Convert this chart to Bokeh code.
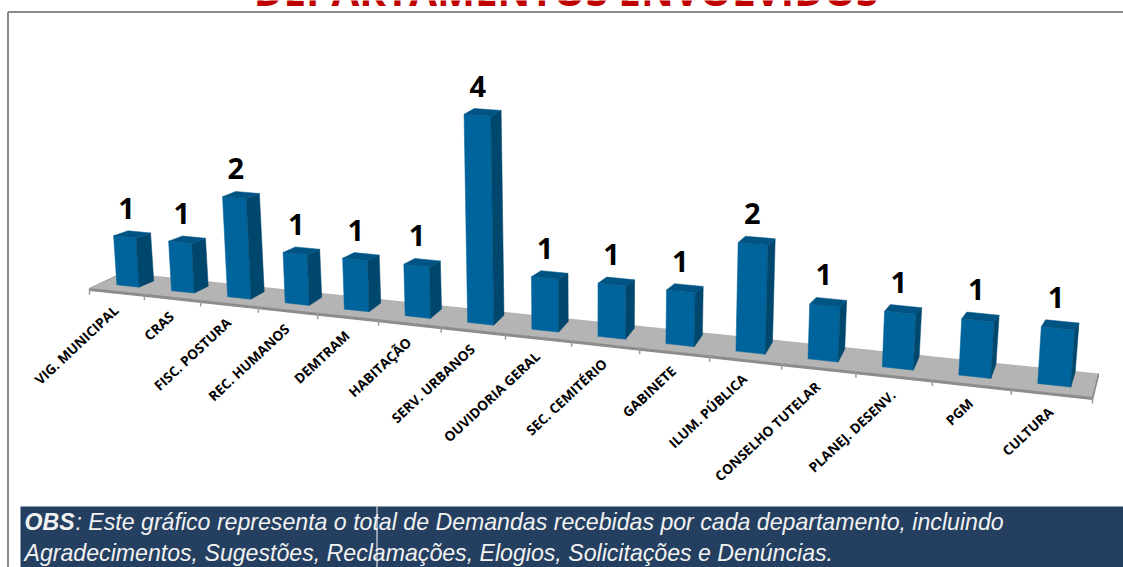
from bokeh.plotting import figure
from bokeh.models import Range1d
from bokeh.core.properties import value
from bokeh.embed import file_html
from bokeh.resources import INLINE

categories = ["VIG. MUNICIPAL", "CRAS", "FISC. POSTURA", "REC. HUMANOS", "DEMTRAM", "HABITAÇÃO",
              "SERV. URBANOS", "OUVIDORIA GERAL", "SEC. CEMITÉRIO", "GABINETE", "ILUM. PÚBLICA",
              "CONSELHO TUTELAR", "PLANEJ. DESENV.", "PGM", "CULTURA"]
values = [1, 1, 2, 1, 1, 1, 4, 1, 1, 1, 2, 1, 1, 1, 1]
title_text = "DEPARTAMENTOS ENVOLVIDOS"
note_bold = "OBS"
note_line1 = ": Este gráfico representa o total de Demandas recebidas por cada departamento, incluindo"
note_line2 = "Agradecimentos, Sugestões, Reclamações, Elogios, Solicitações e Denúncias."

W, H = 1123, 567
n = len(categories)


def lerp(a, b, f):
    return a + (b - a) * f


def X(t):
    return (53.03 * t + 89) / (1 - 0.01267 * t)


def floor_pt(t, d):
    """Perspective position of slot t / depth d on the chart floor."""
    x = X(t)
    f = t / n
    return x + d * lerp(34, 6, f), 288 + 0.1088 * (x - 90) + d * lerp(-16, -24, f)


def raise_pt(x, y, h):
    """Lift a floor point by h value units, following the lens's tilt."""
    u = 49 + 0.0085 * (x - 115)
    return x + h * u * 1.4e-4 * (x - 590), y - h * u


front_x, front_y, side_x, side_y, top_x, top_y = [], [], [], [], [], []
lab_x, lab_y, val_x, val_y = [], [], [], []
for i, v in enumerate(values):
    f = (i + 0.5) / n
    bx0, by0 = floor_pt(i + 0.30, 0.33)
    bx1, by1 = floor_pt(i + 0.71, 0.33)
    dx, dy = lerp(15, 4, f), lerp(-6, -15, f)
    tdy = lerp(-5, -7, f)
    tx0, ty0 = raise_pt(bx0, by0, v)
    tx1, ty1 = raise_pt(bx1, by1, v)
    front_x.append([bx0, bx1, tx1, tx0]); front_y.append([by0, by1, ty1, ty0])
    side_x.append([bx1, bx1 + dx, tx1 + dx, tx1]); side_y.append([by1, by1 + dy, ty1 + tdy, ty1])
    top_x.append([tx0, tx1, tx1 + dx, tx0 + dx]); top_y.append([ty0, ty1, ty1 + tdy, ty0 + tdy])
    val_x.append((tx0 + tx1) / 2 + lerp(2, -2, f)); val_y.append(min(ty0, ty1) + tdy - 12)
    mx, my = floor_pt(i + 0.5, 0)
    lab_x.append(mx - 1); lab_y.append(my + 16.5)

tick_x, tick_y = zip(*[floor_pt(t, 0) for t in range(n + 1)])
floor_c = [floor_pt(0, 0), floor_pt(n, 0), floor_pt(n, 1), floor_pt(0, 1)]

p = figure(width=W, height=H, output_backend="svg", toolbar_location=None,
           x_range=Range1d(0, W), y_range=Range1d(H, 0), min_border=0,
           background_fill_color="white", border_fill_color="white", outline_line_color=None)
p.styles = {"position": "absolute", "left": "0px", "top": "0px"}
p.axis.visible = False
p.grid.visible = False

# chart frame
p.segment([7.5, 7.5], [11.5, 11.5], [1123, 7.5], [11.5, 567], line_color="#8c8c8c", line_width=2)

# floor
p.patch([c[0] for c in floor_c], [c[1] for c in floor_c], fill_color="#B4B4B4", line_color=None)
p.line([floor_c[0][0], floor_c[3][0]], [floor_c[0][1], floor_c[3][1]], line_color="#9a9a9a", line_width=1)
p.patch([floor_c[1][0], floor_c[2][0], floor_c[2][0], floor_c[1][0]],
        [floor_c[1][1], floor_c[2][1], floor_c[2][1] + 3, floor_c[1][1] + 3],
        fill_color="#8c8c8c", line_color="#8c8c8c", line_width=1)
p.line(list(tick_x), [y + 1 for y in tick_y], line_color="#8c8c8c", line_width=3)
p.segment(list(tick_x), list(tick_y), list(tick_x), [y + 6 for y in tick_y], line_color="#9a9a9a", line_width=1.5)

# bars
p.patches(front_x, front_y, fill_color="#00649C", line_color="#00649C", line_width=0.5)
p.patches(side_x, side_y, fill_color="#00476D", line_color="#00476D", line_width=0.5)
p.patches(top_x, top_y, fill_color="#005484", line_color="#005484", line_width=0.5)

# value labels
p.text(val_x, val_y, text=[str(v) for v in values], text_font=value("Open Sans"), text_font_style="bold",
       text_font_size="29px", text_color="black", text_align="center", text_baseline="bottom")

# category labels
p.text(lab_x, lab_y, text=categories, angle=43, angle_units="deg", text_font=value("Open Sans"),
       text_font_style="bold", text_font_size="13.6px", text_color="black", text_align="right",
       text_baseline="middle")

# title, cut by the top of the picture as in the source
p.text([565.5], [-10], text=[title_text], text_font=value("Open Sans"), text_font_style="bold",
       text_font_size="40.3px", text_color="#C00000", text_align="center", text_baseline="alphabetic")

# note band
p.quad(left=[20], right=[W], top=[506], bottom=[H], fill_color="#243F60", line_color=None)
p.segment([376.5], [506], [376.5], [H], line_color="white", line_width=1)
p.text([24], [521], text=[note_bold], text_font=value("Liberation Sans"), text_font_style="bold italic",
       text_font_size="23.13px", text_color="#F2F2F2", text_align="left", text_baseline="alphabetic")
p.text([75], [521], text=[note_line1], text_font=value("Liberation Sans"), text_font_style="italic",
       text_font_size="23.13px", text_color="#F2F2F2", text_align="left", text_baseline="alphabetic")
p.text([24], [552.5], text=[note_line2], text_font=value("Liberation Sans"), text_font_style="italic",
       text_font_size="23.13px", text_color="#F2F2F2", text_align="left", text_baseline="alphabetic")

open("out.html", "w").write(file_html(p, INLINE))
